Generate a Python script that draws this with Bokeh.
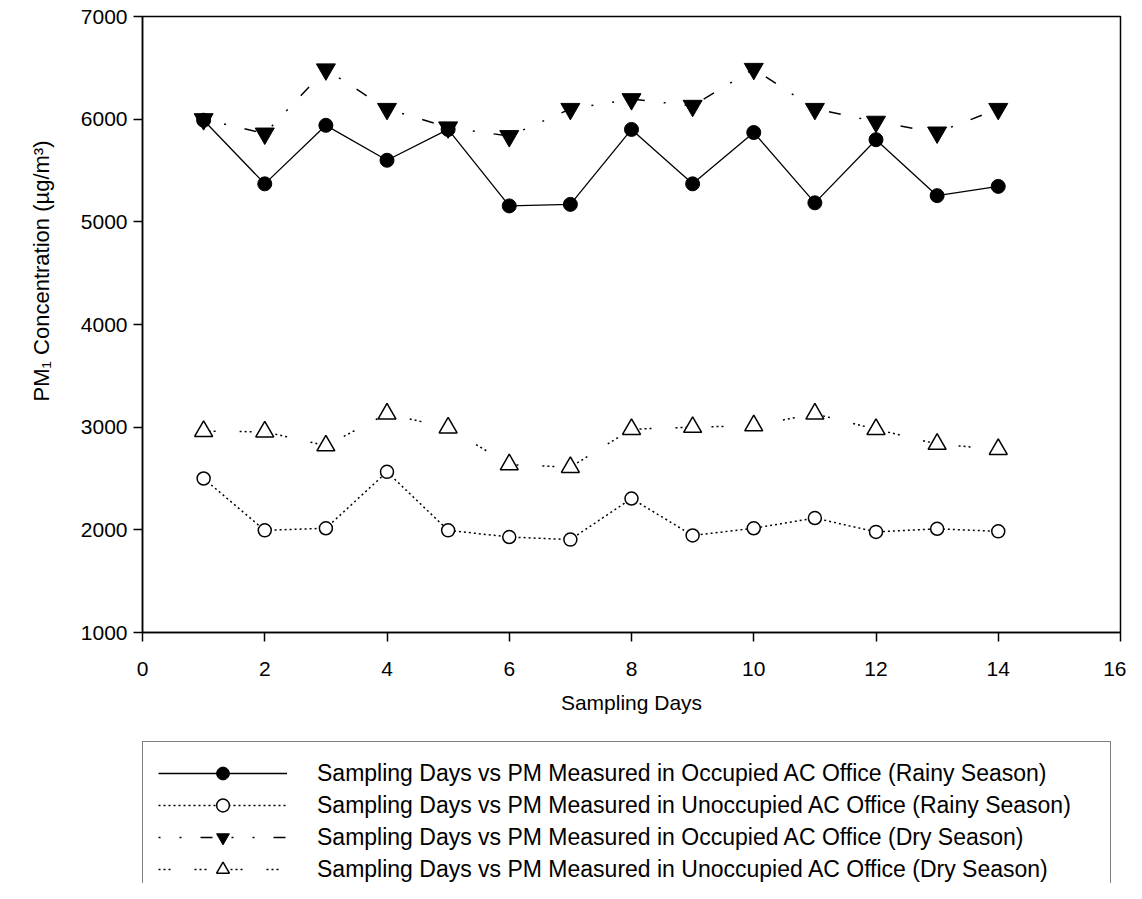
from bokeh.plotting import figure
from bokeh.layouts import column
from bokeh.models import Range1d, FixedTicker, Legend, LegendItem, Title
from bokeh.embed import file_html
from bokeh.resources import INLINE

days = list(range(1, 15))
occ_rainy = [5990, 5370, 5940, 5600, 5900, 5155, 5170, 5900, 5370, 5870, 5185, 5800, 5255, 5345]
unocc_rainy = [2500, 1995, 2015, 2565, 1995, 1930, 1905, 2305, 1945, 2015, 2115, 1980, 2010, 1985]
occ_dry = [6000, 5860, 6485, 6100, 5920, 5835, 6100, 6195, 6130, 6490, 6100, 5975, 5870, 6100]
unocc_dry = [2960, 2955, 2820, 3130, 2995, 2635, 2610, 2980, 3000, 3015, 3130, 2980, 2835, 2785]

labels = [
    "Sampling Days vs PM Measured in Occupied AC Office (Rainy Season)",
    "Sampling Days vs PM Measured in Unoccupied AC Office (Rainy Season)",
    "Sampling Days vs PM Measured in Occupied AC Office (Dry Season)",
    "Sampling Days vs PM Measured in Unoccupied AC Office (Dry Season)",
]
x_ticks = [0, 2, 4, 6, 8, 10, 12, 14, 16]
y_ticks = [1000, 2000, 3000, 4000, 5000, 6000, 7000]

FONT = "Liberation Sans"

series = [
    (occ_rainy, dict(line_width=1.3), dict(marker="circle", size=14, fill_color="black", line_color="black")),
    (unocc_rainy, dict(line_width=1.5, line_dash="2 3"),
     dict(marker="circle", size=13, fill_color="white", line_color="black", line_width=1.5)),
    (occ_dry, dict(line_width=1.5, line_dash="2 19 2 19 12 19"),
     dict(marker="inverted_triangle", size=19, fill_color="black", line_color="black")),
    (unocc_dry, dict(line_width=1.5, line_dash="2 3 2 3 2 24"),
     dict(marker="triangle", size=18, fill_color="white", line_color="black", line_width=1.5)),
]

# ---- main chart ----
p = figure(width=1126, height=739, output_backend="svg", toolbar_location=None,
           x_range=Range1d(0, 16), y_range=Range1d(1000, 7000),
           min_border_left=142, min_border_right=6, min_border_top=16,
           min_border_bottom=107)
p.frame_width = 978
p.frame_height = 616

p.xgrid.visible = False
p.ygrid.visible = False
p.outline_line_color = "black"
p.outline_line_width = 1.5
p.background_fill_color = "white"
p.border_fill_color = "white"

for ax in (p.xaxis[0], p.yaxis[0]):
    ax.axis_line_width = 1.5
    ax.axis_line_color = "black"
    ax.major_tick_line_width = 1.5
    ax.major_tick_line_color = "black"
    ax.major_tick_out = 9
    ax.major_tick_in = 0
    ax.minor_tick_line_color = None
    ax.major_label_text_font = FONT
    ax.major_label_text_font_size = "21px"
    ax.major_label_text_color = "black"
    ax.axis_label_text_font = FONT
    ax.axis_label_text_font_size = "21px"
    ax.axis_label_text_font_style = "normal"
    ax.axis_label_text_color = "black"

p.xaxis.ticker = FixedTicker(ticks=x_ticks)
p.yaxis.ticker = FixedTicker(ticks=y_ticks)
p.xaxis.major_label_standoff = 20
p.yaxis.major_label_standoff = 6
p.xaxis.axis_label = "Sampling Days"
p.xaxis.axis_label_standoff = 12

ytitle = Title(text="PM\u2081 Concentration (\u00b5g/m\u00b3)", align="right", offset=124,
               text_font=FONT, text_font_size="22px", text_font_style="normal",
               text_color="black", standoff=48)
p.add_layout(ytitle, "left")

for ys, lkw, skw in series:
    p.line(days, ys, line_color="black", **lkw)
    p.scatter(days, ys, **skw)

# ---- legend panel below (same series, drawn out of view; only the legend shows) ----
p2 = figure(width=1126, height=144, output_backend="svg", toolbar_location=None,
            x_range=Range1d(100, 101), y_range=Range1d(0, 1),
            x_axis_type=None, y_axis_type=None,
            min_border_left=0, min_border_right=0, min_border_top=0, min_border_bottom=0)
p2.xgrid.visible = False
p2.ygrid.visible = False
p2.outline_line_color = None
p2.background_fill_color = "white"
p2.border_fill_color = "white"

items = []
for (ys, lkw, skw), lab in zip(series, labels):
    r1 = p2.line(days, ys, line_color="black", **lkw)
    r2 = p2.scatter(days, ys, **skw)
    items.append(LegendItem(label=lab, renderers=[r1, r2]))

legend = Legend(items=items, location=(0, -18), margin=0, padding=15, spacing=0,
                glyph_width=129, glyph_height=32, label_standoff=30, label_width=778,
                label_text_font=FONT, label_text_font_size="23px", label_text_color="black",
                border_line_color="black", border_line_width=1.5, background_fill_alpha=1.0)
p2.add_layout(legend, "center")

layout = column(p, p2, spacing=0)
open("out.html", "w").write(file_html(layout, INLINE))
